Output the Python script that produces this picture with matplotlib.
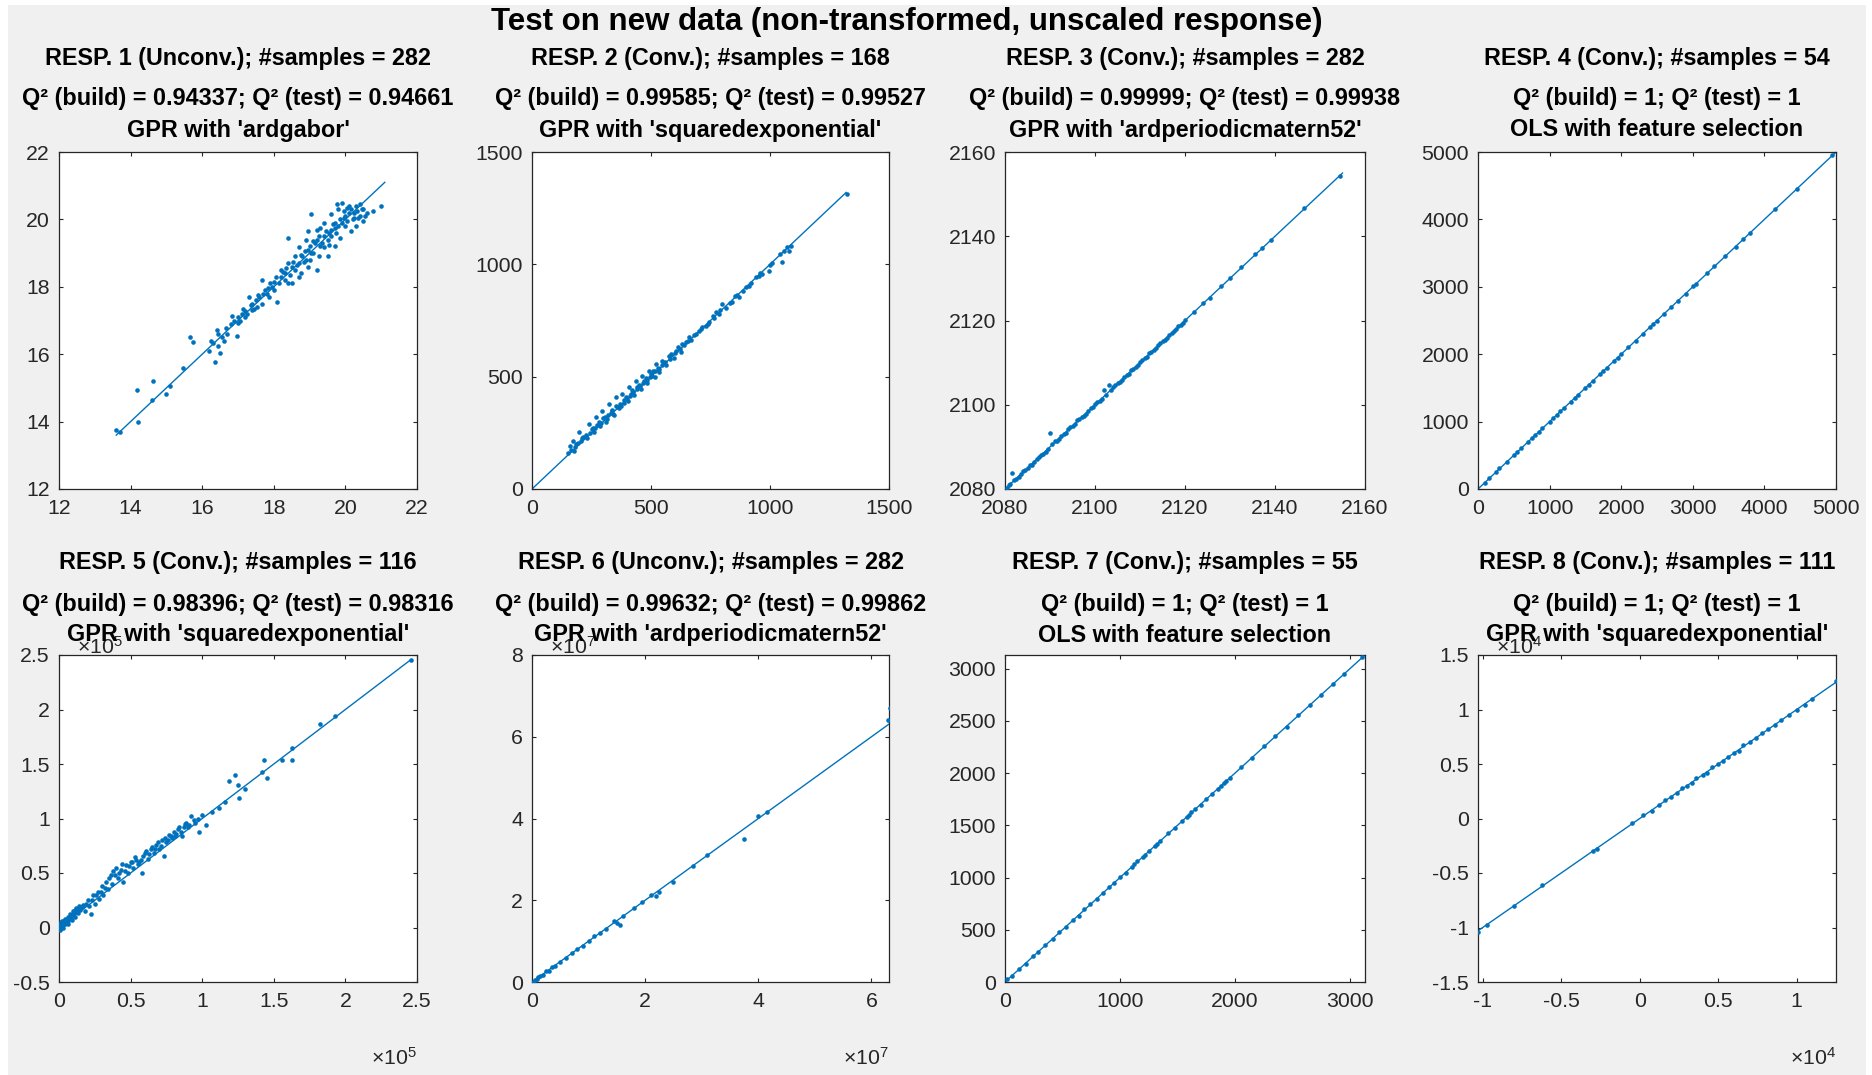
import matplotlib
matplotlib.use('Agg')
import matplotlib.pyplot as plt
from matplotlib.patches import Rectangle

plt.rcParams['font.family'] = ['Liberation Sans', 'DejaVu Sans']
plt.rcParams['mathtext.fontset'] = 'custom'
plt.rcParams['mathtext.rm'] = 'Liberation Sans'
plt.rcParams['mathtext.it'] = 'Liberation Sans:italic'
plt.rcParams['mathtext.bf'] = 'Liberation Sans:bold'

# ---------------- data ----------------
suptitle = "Test on new data (non-transformed, unscaled response)"

p1_titles = ["RESP. 1 (Unconv.); #samples = 282", "Q² (build) = 0.94337; Q² (test) = 0.94661", "GPR with 'ardgabor'"]
p2_titles = ["RESP. 2 (Conv.); #samples = 168", "Q² (build) = 0.99585; Q² (test) = 0.99527", "GPR with 'squaredexponential'"]
p3_titles = ["RESP. 3 (Conv.); #samples = 282", "Q² (build) = 0.99999; Q² (test) = 0.99938", "GPR with 'ardperiodicmatern52'"]
p4_titles = ["RESP. 4 (Conv.); #samples = 54", "Q² (build) = 1; Q² (test) = 1", "OLS with feature selection"]
p5_titles = ["RESP. 5 (Conv.); #samples = 116", "Q² (build) = 0.98396; Q² (test) = 0.98316", "GPR with 'squaredexponential'"]
p6_titles = ["RESP. 6 (Unconv.); #samples = 282", "Q² (build) = 0.99632; Q² (test) = 0.99862", "GPR with 'ardperiodicmatern52'"]
p7_titles = ["RESP. 7 (Conv.); #samples = 55", "Q² (build) = 1; Q² (test) = 1", "OLS with feature selection"]
p8_titles = ["RESP. 8 (Conv.); #samples = 111", "Q² (build) = 1; Q² (test) = 1", "GPR with 'squaredexponential'"]

p1_x = [13.60, 13.70, 14.17, 14.20, 14.60, 14.62, 15.00, 15.10, 15.45, 15.65, 15.74,
        16.30, 16.35, 16.43, 16.50, 16.40, 16.66, 16.55, 16.60, 16.84, 16.80, 17.00, 16.97, 17.00, 17.10, 17.20, 17.20,
        17.30, 17.40, 17.40, 17.53, 17.50, 17.60, 17.67, 17.67, 17.76, 17.80, 17.86, 17.90, 17.95, 18.00, 18.05, 18.10,
        18.20, 18.20, 18.30, 18.30, 18.40, 18.40, 18.40, 18.50, 18.50, 18.60, 18.60, 18.70, 18.70, 18.70, 18.77, 18.80,
        18.86, 18.90, 18.90, 18.95, 19.00, 19.00, 19.05, 19.10, 19.10, 19.20, 19.20, 19.20, 19.30, 19.30, 19.40, 19.40,
        19.40, 19.50, 19.50, 19.60, 19.60, 19.60, 19.70, 19.70, 19.70, 19.77, 19.80, 19.80, 19.86, 19.90, 19.90, 19.95,
        20.00, 20.00, 20.05, 20.10, 20.10, 20.15, 20.20, 20.24, 20.30, 20.33, 20.30, 20.40, 20.42, 20.50, 20.50, 20.60,
        20.78, 21.00,
        16.20, 16.25, 16.45, 16.70, 16.90, 17.05, 17.15, 17.25, 17.35, 17.45, 17.55, 17.70, 17.85, 18.00, 18.15,
        18.25, 18.35, 18.45, 18.55, 18.65, 18.75, 18.85, 18.95, 19.05, 19.15, 19.25, 19.35, 19.45, 19.55, 19.65,
        19.75, 19.85, 19.95, 20.05, 20.15, 20.25, 20.35, 20.45, 20.55, 19.55, 19.25, 18.95]
p1_y = [13.76, 13.68, 14.93, 14.00, 14.65, 15.20, 14.83, 15.07, 15.58, 16.50, 16.35,
        16.34, 15.76, 16.24, 16.05, 16.73, 16.78, 16.50, 16.40, 17.12, 16.90, 16.93, 16.54, 17.10, 17.20, 17.27, 17.10,
        17.70, 17.30, 17.50, 17.40, 17.60, 17.70, 17.50, 18.20, 17.90, 17.80, 17.70, 18.10, 18.00, 17.90, 18.30, 17.55,
        18.50, 18.30, 18.40, 18.20, 19.45, 18.70, 18.10, 18.10, 18.60, 18.90, 18.50, 18.70, 19.17, 18.30, 18.40, 18.90,
        19.07, 18.80, 19.40, 19.65, 18.80, 19.20, 20.15, 19.35, 19.00, 18.50, 19.40, 19.70, 19.75, 19.20, 19.17, 19.50,
        19.90, 18.90, 19.40, 20.15, 19.70, 19.50, 19.75, 19.90, 19.20, 20.45, 19.80, 20.30, 19.45, 19.90, 20.50, 20.05,
        20.10, 19.80, 20.35, 20.20, 20.40, 19.65, 20.00, 20.05, 20.40, 20.25, 19.80, 20.10, 20.45, 19.95, 20.30, 20.20,
        20.25, 20.40,
        16.10, 16.40, 16.60, 16.60, 17.00, 17.00, 17.35, 17.20, 17.45, 17.35, 17.75, 17.80, 17.95, 18.15, 18.10,
        18.45, 18.55, 18.35, 18.75, 18.65, 18.95, 18.75, 19.10, 19.00, 19.30, 19.50, 19.30, 19.65, 19.60, 19.85,
        19.60, 20.00, 20.25, 19.95, 20.30, 20.20, 20.05, 20.30, 20.10, 19.25, 18.90, 18.60]
p1_line = [13.6, 21.1]

p2_x = [150, 160, 171, 175, 185, 199, 205, 215, 225, 241, 245, 255, 262, 269, 275, 280, 290, 296, 300, 310,
        318, 324, 330, 338, 345, 352, 360, 368, 375, 380, 388, 395, 402, 408, 415, 422, 430, 436, 442, 450,
        458, 464, 470, 478, 485, 492, 500, 508, 515, 520, 528, 535, 548, 555, 565, 576, 585, 595, 604, 615,
        625, 632, 645, 660, 670, 688, 700, 716, 730, 744, 760, 772, 785, 800, 815, 842, 855, 870, 885, 898,
        920, 940, 955, 968, 996, 1010, 1052, 1070, 1080, 1087, 1324,
        165, 180, 195, 210, 230, 250, 265, 285, 305, 315, 335, 342, 355, 365, 385, 398, 412, 425, 440, 455,
        468, 482, 495, 505, 518, 532, 545, 560, 580, 600, 620, 640, 655, 680, 710, 740, 765, 790, 830, 860,
        910, 960, 1000, 1040, 1060]
p2_y = [160, 190, 215, 170, 200, 252, 215, 230, 240, 289, 250, 270, 255, 319, 285, 300, 295, 349, 315, 300,
        330, 378, 340, 350, 330, 408, 365, 380, 370, 423, 395, 410, 390, 453, 425, 440, 420, 482, 455, 465,
        445, 504, 480, 495, 470, 527, 510, 525, 500, 556, 540, 520, 571, 560, 550, 593, 600, 585, 616, 630,
        610, 645, 655, 675, 665, 690, 705, 720, 725, 742, 770, 786, 780, 823, 805, 831, 860, 853, 880, 898,
        915, 942, 950, 957, 972, 1005, 1009, 1075, 1061, 1083, 1313,
        175, 185, 205, 225, 225, 265, 270, 280, 320, 310, 345, 335, 370, 360, 385, 400, 415, 430, 445, 460,
        470, 485, 500, 505, 525, 535, 550, 565, 578, 605, 625, 640, 660, 685, 710, 735, 762, 795, 830, 862,
        905, 963, 998, 1045, 1060]
p2_line = [0, 1320]

p3_x = [2080.5, 2081.5, 2082, 2083, 2084, 2085, 2086, 2087, 2088, 2089, 2090, 2090.5, 2091, 2092, 2093, 2094,
        2095, 2096, 2097, 2098, 2099, 2100, 2101, 2102, 2102.5, 2103, 2104, 2105, 2106, 2107, 2108, 2109,
        2110, 2111, 2112, 2113, 2114, 2115, 2116, 2117, 2118, 2119, 2120, 2122, 2124, 2125.5, 2128, 2130,
        2132.5, 2135.5, 2137, 2139, 2146.5, 2154.5,
        2080.8, 2081.2, 2082.5, 2083.5, 2084.5, 2085.5, 2086.5, 2087.5, 2088.5, 2089.5, 2091.5, 2092.5, 2093.5,
        2094.5, 2095.5, 2096.5, 2097.5, 2098.5, 2099.5, 2100.5, 2101.5, 2103.5, 2104.5, 2105.5, 2106.5, 2107.5,
        2108.5, 2109.5, 2110.5, 2111.5, 2112.5, 2113.5, 2114.5, 2115.5, 2116.5, 2117.5, 2118.5, 2119.5]
p3_y = [2080.3, 2083.8, 2082.2, 2082.8, 2084.3, 2085.1, 2085.8, 2087.2, 2088.0, 2088.7, 2093.2, 2090.6, 2091.3, 2091.8, 2093.1, 2094.2,
        2094.9, 2096.3, 2097.0, 2097.8, 2099.2, 2100.1, 2100.8, 2103.5, 2102.3, 2104.8, 2104.1, 2105.2, 2105.9, 2107.1, 2108.2, 2108.9,
        2110.1, 2111.0, 2112.2, 2112.9, 2114.1, 2115.2, 2115.9, 2117.0, 2118.1, 2118.9, 2120.1, 2122.0, 2124.2, 2125.4, 2128.1, 2130.0,
        2132.6, 2135.7, 2137.1, 2139.2, 2146.6, 2154.3,
        2081.0, 2081.1, 2082.4, 2083.6, 2084.4, 2085.6, 2086.4, 2087.6, 2088.4, 2089.6, 2091.4, 2092.6, 2093.4,
        2094.6, 2095.4, 2096.6, 2097.4, 2098.6, 2099.4, 2100.6, 2101.4, 2103.4, 2104.6, 2105.4, 2106.6, 2107.4,
        2108.6, 2109.4, 2110.6, 2111.4, 2112.6, 2113.4, 2114.6, 2115.4, 2116.6, 2117.4, 2118.6, 2119.4]
p3_line = [2080, 2155]

p4_x = [100, 150, 250, 300, 400, 500, 550, 600, 700, 750, 800, 850, 900, 1000, 1050, 1100, 1150, 1200, 1300,
        1350, 1400, 1500, 1550, 1600, 1700, 1750, 1800, 1900, 1950, 2000, 2100, 2200, 2300, 2400, 2450, 2500,
        2600, 2700, 2800, 2900, 3000, 3050, 3200, 3300, 3450, 3600, 3700, 3800, 4150, 4450, 4950]
p4_y = [95, 160, 245, 310, 395, 505, 545, 610, 695, 755, 800, 845, 910, 995, 1060, 1095, 1150, 1205, 1295,
        1355, 1400, 1505, 1545, 1600, 1705, 1745, 1800, 1905, 1945, 2000, 2105, 2195, 2300, 2405, 2445, 2500,
        2600, 2705, 2795, 2900, 3005, 3040, 3200, 3305, 3450, 3595, 3705, 3800, 4150, 4450, 4950]
p4_line = [0, 5000]

p5_x = [0.005e5, 0.01e5, 0.01e5, 0.015e5, 0.02e5, 0.025e5, 0.03e5, 0.03e5, 0.04e5, 0.04e5, 0.05e5, 0.06e5, 0.06e5,
        0.07e5, 0.08e5, 0.09e5, 0.10e5, 0.11e5, 0.12e5, 0.13e5, 0.14e5, 0.15e5, 0.17e5, 0.18e5, 0.20e5, 0.21e5,
        0.22e5, 0.24e5, 0.25e5, 0.27e5, 0.28e5, 0.30e5, 0.31e5, 0.33e5, 0.34e5, 0.36e5, 0.37e5, 0.38e5, 0.40e5,
        0.41e5, 0.42e5, 0.44e5, 0.45e5, 0.47e5, 0.48e5, 0.50e5, 0.52e5, 0.53e5, 0.55e5, 0.57e5, 0.58e5, 0.60e5,
        0.62e5, 0.64e5, 0.66e5, 0.68e5, 0.70e5, 0.72e5, 0.73e5, 0.75e5, 0.77e5, 0.79e5, 0.80e5, 0.82e5, 0.84e5,
        0.86e5, 0.88e5, 0.90e5, 0.92e5, 0.95e5, 0.98e5, 1.00e5, 1.03e5, 1.07e5, 1.12e5, 1.16e5, 1.19e5, 1.23e5,
        1.25e5, 1.26e5, 1.30e5, 1.42e5, 1.43e5, 1.45e5, 1.56e5, 1.63e5, 1.63e5, 1.82e5, 1.93e5, 2.46e5,
        0.000e5, 0.005e5, 0.008e5, 0.012e5, 0.018e5, 0.022e5, 0.028e5, 0.035e5, 0.045e5, 0.055e5,
        0.065e5, 0.075e5, 0.085e5, 0.095e5, 0.105e5, 0.115e5, 0.125e5, 0.135e5, 0.16e5, 0.19e5,
        0.23e5, 0.26e5, 0.29e5, 0.32e5, 0.35e5, 0.39e5, 0.43e5, 0.46e5, 0.49e5, 0.51e5,
        0.54e5, 0.56e5, 0.59e5, 0.61e5, 0.63e5, 0.65e5, 0.67e5, 0.69e5, 0.71e5, 0.74e5,
        0.76e5, 0.78e5, 0.81e5, 0.83e5, 0.85e5, 0.87e5, 0.89e5, 0.91e5, 0.94e5, 0.97e5]
p5_y = [0.00e5, 0.02e5, -0.02e5, 0.05e5, 0.01e5, 0.04e5, 0.00e5, 0.06e5, 0.03e5, 0.08e5, 0.05e5, 0.10e5, 0.03e5,
        0.08e5, 0.12e5, 0.07e5, 0.15e5, 0.10e5, 0.18e5, 0.13e5, 0.20e5, 0.16e5, 0.21e5, 0.15e5, 0.25e5, 0.20e5,
        0.12e5, 0.30e5, 0.22e5, 0.33e5, 0.26e5, 0.38e5, 0.30e5, 0.42e5, 0.35e5, 0.48e5, 0.40e5, 0.52e5, 0.55e5,
        0.45e5, 0.50e5, 0.58e5, 0.42e5, 0.57e5, 0.50e5, 0.60e5, 0.55e5, 0.65e5, 0.58e5, 0.62e5, 0.50e5, 0.68e5,
        0.63e5, 0.72e5, 0.68e5, 0.76e5, 0.72e5, 0.80e5, 0.66e5, 0.78e5, 0.85e5, 0.82e5, 0.88e5, 0.86e5, 0.92e5,
        0.84e5, 0.95e5, 0.92e5, 1.02e5, 0.96e5, 0.88e5, 1.03e5, 0.94e5, 1.06e5, 1.10e5, 1.15e5, 1.34e5, 1.40e5,
        1.31e5, 1.19e5, 1.27e5, 1.43e5, 1.54e5, 1.37e5, 1.54e5, 1.54e5, 1.65e5, 1.87e5, 1.94e5, 2.45e5,
        0.01e5, 0.03e5, -0.01e5, 0.00e5, 0.03e5, 0.06e5, 0.02e5, 0.05e5, 0.06e5, 0.08e5,
        0.06e5, 0.11e5, 0.09e5, 0.12e5, 0.13e5, 0.16e5, 0.14e5, 0.17e5, 0.19e5, 0.22e5,
        0.25e5, 0.30e5, 0.33e5, 0.36e5, 0.45e5, 0.48e5, 0.53e5, 0.52e5, 0.56e5, 0.60e5,
        0.62e5, 0.60e5, 0.66e5, 0.70e5, 0.67e5, 0.74e5, 0.72e5, 0.78e5, 0.75e5, 0.82e5,
        0.80e5, 0.84e5, 0.84e5, 0.90e5, 0.88e5, 0.92e5, 0.96e5, 0.94e5, 0.99e5, 1.00e5]
p5_line = [0, 2.45e5]

p6_x = [0.02e7, 0.05e7, 0.08e7, 0.10e7, 0.15e7, 0.20e7, 0.25e7, 0.30e7, 0.35e7, 0.40e7, 0.50e7, 0.60e7, 0.70e7,
        0.80e7, 0.90e7, 1.00e7, 1.10e7, 1.20e7, 1.30e7, 1.45e7, 1.50e7, 1.55e7, 1.60e7, 1.80e7, 1.95e7, 2.10e7,
        2.20e7, 2.25e7, 2.50e7, 2.85e7, 3.10e7, 3.75e7, 4.00e7, 4.15e7, 6.30e7, 6.32e7]
p6_y = [0.01e7, 0.04e7, 0.08e7, 0.12e7, 0.14e7, 0.18e7, 0.26e7, 0.28e7, 0.36e7, 0.38e7, 0.50e7, 0.58e7, 0.72e7,
        0.80e7, 0.88e7, 1.00e7, 1.12e7, 1.20e7, 1.30e7, 1.50e7, 1.45e7, 1.40e7, 1.62e7, 1.80e7, 1.95e7, 2.12e7,
        2.10e7, 2.20e7, 2.45e7, 2.85e7, 3.10e7, 3.50e7, 4.05e7, 4.15e7, 6.40e7, 6.70e7]
p6_line = [0, 6.31e7]

p7_x = [20, 60, 120, 180, 240, 290, 350, 420, 470, 530, 590, 640, 690, 740, 800, 850, 900, 950, 1000, 1050,
        1100, 1120, 1150, 1200, 1220, 1250, 1300, 1320, 1350, 1420, 1480, 1540, 1580, 1600, 1620, 1650, 1700,
        1750, 1800, 1850, 1880, 1900, 1920, 1960, 2050, 2150, 2250, 2350, 2450, 2550, 2650, 2750, 2850, 2950, 3100]
p7_y = [25, 55, 125, 175, 245, 285, 355, 415, 475, 525, 595, 635, 695, 745, 795, 855, 905, 945, 1005, 1045,
        1100, 1125, 1155, 1195, 1215, 1255, 1300, 1325, 1345, 1425, 1475, 1545, 1575, 1600, 1625, 1655, 1695,
        1755, 1800, 1845, 1875, 1905, 1925, 1955, 2055, 2145, 2255, 2350, 2445, 2555, 2650, 2745, 2855, 2950, 3110]
p7_line = [0, 3130]

p8_x = [-1.03e4, -0.97e4, -0.80e4, -0.62e4, -0.30e4, -0.27e4, -0.05e4, 0.02e4, 0.08e4, 0.12e4, 0.16e4, 0.20e4,
        0.24e4, 0.27e4, 0.30e4, 0.33e4, 0.36e4, 0.40e4, 0.43e4, 0.46e4, 0.50e4, 0.53e4, 0.56e4, 0.60e4, 0.63e4,
        0.66e4, 0.70e4, 0.74e4, 0.78e4, 0.82e4, 0.86e4, 0.90e4, 0.95e4, 1.00e4, 1.05e4, 1.10e4, 1.25e4]
p8_y = [-1.04e4, -0.98e4, -0.80e4, -0.61e4, -0.30e4, -0.28e4, -0.04e4, 0.03e4, 0.07e4, 0.12e4, 0.17e4, 0.20e4,
        0.23e4, 0.28e4, 0.30e4, 0.33e4, 0.37e4, 0.40e4, 0.42e4, 0.47e4, 0.50e4, 0.53e4, 0.56e4, 0.60e4, 0.62e4,
        0.67e4, 0.70e4, 0.74e4, 0.78e4, 0.82e4, 0.86e4, 0.90e4, 0.95e4, 1.00e4, 1.04e4, 1.10e4, 1.26e4]
p8_line = [-1.03e4, 1.25e4]

# axis limits, ticks and tick labels
p1_xlim, p1_ylim = [12, 22], [12, 22]
p1_xticks = [12, 14, 16, 18, 20, 22]; p1_xticklabels = ['12', '14', '16', '18', '20', '22']
p1_yticks = [12, 14, 16, 18, 20, 22]; p1_yticklabels = ['12', '14', '16', '18', '20', '22']

p2_xlim, p2_ylim = [0, 1500], [0, 1500]
p2_xticks = [0, 500, 1000, 1500]; p2_xticklabels = ['0', '500', '1000', '1500']
p2_yticks = [0, 500, 1000, 1500]; p2_yticklabels = ['0', '500', '1000', '1500']

p3_xlim, p3_ylim = [2080, 2160], [2080, 2160]
p3_xticks = [2080, 2100, 2120, 2140, 2160]; p3_xticklabels = ['2080', '2100', '2120', '2140', '2160']
p3_yticks = [2080, 2100, 2120, 2140, 2160]; p3_yticklabels = ['2080', '2100', '2120', '2140', '2160']

p4_xlim, p4_ylim = [0, 5000], [0, 5000]
p4_xticks = [0, 1000, 2000, 3000, 4000, 5000]; p4_xticklabels = ['0', '1000', '2000', '3000', '4000', '5000']
p4_yticks = [0, 1000, 2000, 3000, 4000, 5000]; p4_yticklabels = ['0', '1000', '2000', '3000', '4000', '5000']

p5_xlim, p5_ylim = [0, 2.5e5], [-0.5e5, 2.5e5]
p5_xticks = [0, 0.5e5, 1e5, 1.5e5, 2e5, 2.5e5]; p5_xticklabels = ['0', '0.5', '1', '1.5', '2', '2.5']
p5_yticks = [-0.5e5, 0, 0.5e5, 1e5, 1.5e5, 2e5, 2.5e5]; p5_yticklabels = ['-0.5', '0', '0.5', '1', '1.5', '2', '2.5']

p6_xlim, p6_ylim = [0, 6.31e7], [0, 8e7]
p6_xticks = [0, 2e7, 4e7, 6e7]; p6_xticklabels = ['0', '2', '4', '6']
p6_yticks = [0, 2e7, 4e7, 6e7, 8e7]; p6_yticklabels = ['0', '2', '4', '6', '8']

p7_xlim, p7_ylim = [0, 3130], [0, 3130]
p7_xticks = [0, 1000, 2000, 3000]; p7_xticklabels = ['0', '1000', '2000', '3000']
p7_yticks = [0, 500, 1000, 1500, 2000, 2500, 3000]; p7_yticklabels = ['0', '500', '1000', '1500', '2000', '2500', '3000']

p8_xlim, p8_ylim = [-1.03e4, 1.25e4], [-1.5e4, 1.5e4]
p8_xticks = [-1e4, -0.5e4, 0, 0.5e4, 1e4]; p8_xticklabels = ['-1', '-0.5', '0', '0.5', '1']
p8_yticks = [-1.5e4, -1e4, -0.5e4, 0, 0.5e4, 1e4, 1.5e4]; p8_yticklabels = ['-1.5', '-1', '-0.5', '0', '0.5', '1', '1.5']

p5_exp, p6_exp, p8_exp = '5', '7', '4'

# ---------------- layout / style ----------------
W, H = 1872, 1075
BLUE = '#0072BD'
DARK = '#262626'
col_left = [59, 532, 1005, 1478]
col_w = [358, 357, 360, 358]
row_top = [152, 655]
row_h = [337, 327]
title_offsets = [[93, 54, 22], [92, 51, 20]]

fig = plt.figure(figsize=(W / 100, H / 100), dpi=100, facecolor='white')
fig.patches.append(Rectangle((8 / W, 0), (1866 - 8) / W, (H - 5) / H, transform=fig.transFigure,
                             facecolor='#f0f0f0', edgecolor='none', zorder=-10))

fig.text(907 / W, 1 - 22 / H, suptitle, ha='center', va='center', fontsize=22.5,
         fontweight='bold', color='black')

panels = [
    (p1_x, p1_y, p1_line, p1_xlim, p1_ylim, p1_xticks, p1_xticklabels, p1_yticks, p1_yticklabels, p1_titles, None),
    (p2_x, p2_y, p2_line, p2_xlim, p2_ylim, p2_xticks, p2_xticklabels, p2_yticks, p2_yticklabels, p2_titles, None),
    (p3_x, p3_y, p3_line, p3_xlim, p3_ylim, p3_xticks, p3_xticklabels, p3_yticks, p3_yticklabels, p3_titles, None),
    (p4_x, p4_y, p4_line, p4_xlim, p4_ylim, p4_xticks, p4_xticklabels, p4_yticks, p4_yticklabels, p4_titles, None),
    (p5_x, p5_y, p5_line, p5_xlim, p5_ylim, p5_xticks, p5_xticklabels, p5_yticks, p5_yticklabels, p5_titles, p5_exp),
    (p6_x, p6_y, p6_line, p6_xlim, p6_ylim, p6_xticks, p6_xticklabels, p6_yticks, p6_yticklabels, p6_titles, p6_exp),
    (p7_x, p7_y, p7_line, p7_xlim, p7_ylim, p7_xticks, p7_xticklabels, p7_yticks, p7_yticklabels, p7_titles, None),
    (p8_x, p8_y, p8_line, p8_xlim, p8_ylim, p8_xticks, p8_xticklabels, p8_yticks, p8_yticklabels, p8_titles, p8_exp),
]

for i, (x, y, line, xlim, ylim, xt, xtl, yt, ytl, titles, expo) in enumerate(panels):
    r, c = divmod(i, 4)
    left, top, w, h = col_left[c], row_top[r], col_w[c], row_h[r]
    ax = fig.add_axes([left / W, 1 - (top + h) / H, w / W, h / H])
    ax.set_facecolor('white')
    ax.plot(line, line, color=BLUE, lw=1.0, zorder=2)
    ax.plot(x, y, linestyle='none', marker='o', ms=3.3, mew=0, color=BLUE, zorder=3)
    ax.set_xlim(xlim)
    ax.set_ylim(ylim)
    ax.set_xticks(xt)
    ax.set_xticklabels(xtl)
    ax.set_yticks(yt)
    ax.set_yticklabels(ytl)
    ax.tick_params(direction='in', top=True, right=True, length=3.2, width=0.8, color=DARK,
                   labelsize=15.3, labelcolor=DARK)
    ax.tick_params(axis='x', pad=7.5)
    ax.tick_params(axis='y', pad=6.5)
    for s in ax.spines.values():
        s.set_color(DARK)
        s.set_linewidth(0.9)
    cx = left + w / 2
    if expo is not None:
        # y-axis multiplier sits under the third title line, as in the reference
        fig.text((left + 18) / W, 1 - (top - 8) / H, '×$\\mathregular{10^{%s}}$' % expo,
                 ha='left', va='center', fontsize=15.3, color=DARK, zorder=1)
        fig.text((left + w) / W, 1 - 1058 / H, '×$\\mathregular{10^{%s}}$' % expo,
                 ha='right', va='center', fontsize=15.3, color=DARK)
    for t, off in zip(titles, title_offsets[r]):
        fig.text(cx / W, 1 - (top - off) / H, t, ha='center', va='center', fontsize=16.8,
                 fontweight='bold', color='black', zorder=5)

fig.savefig('out.png', dpi=100, facecolor=fig.get_facecolor())
